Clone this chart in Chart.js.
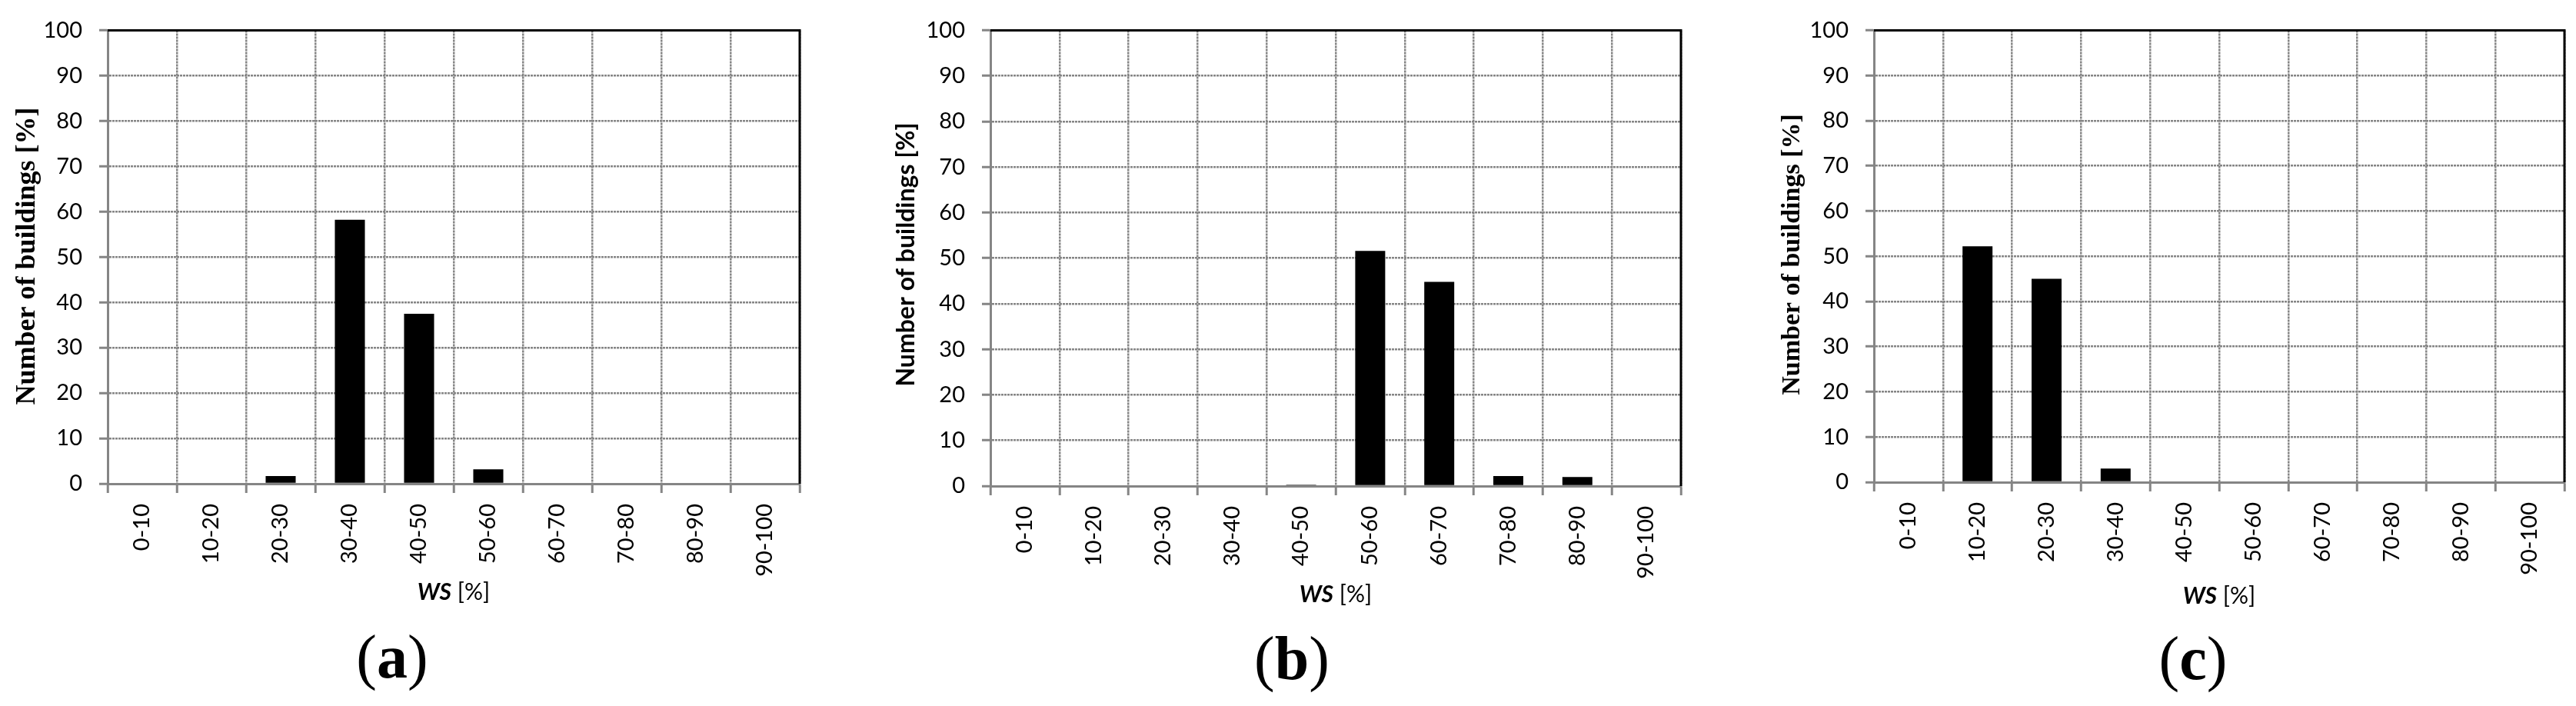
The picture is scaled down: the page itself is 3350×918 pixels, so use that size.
<!DOCTYPE html>
<html>
<head>
<meta charset="utf-8">
<script src="https://cdn.jsdelivr.net/npm/chart.js@4.4.0/dist/chart.umd.min.js"></script>
<style>
  html, body { margin: 0; padding: 0; background: #fff; }
  body { width: 3350px; height: 918px; position: relative; overflow: hidden; }
  .panel { position: absolute; top: 0; }
</style>
</head>
<body>
<canvas class="panel" id="chartA" width="1080" height="918" style="left:0px"></canvas>
<canvas class="panel" id="chartB" width="1110" height="918" style="left:1120px"></canvas>
<canvas class="panel" id="chartC" width="1090" height="918" style="left:2260px"></canvas>
<script>
// WS classes on the x axis
const wsClasses = ['0-10', '10-20', '20-30', '30-40', '40-50', '50-60', '60-70', '70-80', '80-90', '90-100'];
// y axis ticks
const yTicks = [0, 10, 20, 30, 40, 50, 60, 70, 80, 90, 100];
// share of buildings [%] in each WS class
const sharesA = [0, 0, 1.7, 58.2, 37.5, 3.2, 0, 0, 0, 0];
const sharesB = [0, 0, 0, 0, 0.3, 51.6, 44.8, 2.2, 2.0, 0];
const sharesC = [0, 52.2, 45.0, 3.0, 0, 0, 0, 0, 0, 0];

const yTitle = 'Number of buildings [%]';
const GRID = '#858585';

// panel geometry (page pixels)
const panels = [
  { id: 'chartA', data: sharesA, letter: 'a', left: 0, plotLeft: 140, plotRight: 1040, top: 31, bottom: 629,
    yFont: 'bold 36px "Liberation Serif"', yTitleX: 36, yTitleY: 333, xTitleY: 770, labelX: 510, labelY: 860 },
  { id: 'chartB', data: sharesB, letter: 'b', left: 1120, plotLeft: 1288, plotRight: 2186, top: 32, bottom: 632,
    yFont: 'bold 32px Lato', yTitleX: 1179, yTitleY: 331, xTitleY: 773, labelX: 1680, labelY: 862 },
  { id: 'chartC', data: sharesC, letter: 'c', left: 2260, plotLeft: 2437, plotRight: 3335, top: 30, bottom: 627,
    yFont: 'bold 34px "Liberation Serif"', yTitleX: 2331, yTitleY: 331, xTitleY: 775, labelX: 2852, labelY: 862 }
];

// titles, panel letter and the black top/right frame
const panelText = {
  id: 'panelText',
  afterDraw(chart, args, p) {
    const ctx = chart.ctx;
    const a = chart.chartArea;
    ctx.save();
    ctx.strokeStyle = '#000';
    ctx.lineWidth = 3;
    ctx.beginPath();
    ctx.moveTo(a.left, a.top);
    ctx.lineTo(a.right, a.top);
    ctx.lineTo(a.right, a.bottom);
    ctx.stroke();

    ctx.fillStyle = '#000';
    // y title
    ctx.save();
    ctx.translate(p.yTitleX - p.left, p.yTitleY);
    ctx.rotate(-Math.PI / 2);
    ctx.font = p.yFont;
    ctx.textAlign = 'center';
    ctx.textBaseline = 'middle';
    ctx.fillText(yTitle, 0, 0);
    ctx.restore();

    // x title: WS bold italic + [%]
    ctx.textBaseline = 'middle';
    ctx.textAlign = 'left';
    const f1 = 'italic bold 30px Lato', f2 = '30px Lato';
    ctx.font = f1; const w1 = ctx.measureText('WS').width;
    ctx.font = f2; const w2 = ctx.measureText(' [%]').width;
    let x = (a.left + a.right) / 2 - (w1 + w2) / 2;
    ctx.font = f1; ctx.fillText('WS', x, p.xTitleY);
    ctx.font = f2; ctx.fillText(' [%]', x + w1, p.xTitleY);

    // panel letter (a)
    const g1 = '80px "Liberation Serif"', g2 = 'bold 80px "Liberation Serif"';
    ctx.font = g1; const wp = ctx.measureText('(').width;
    ctx.font = g2; const wl = ctx.measureText(p.letter).width;
    x = p.labelX - p.left - (2 * wp + wl) / 2;
    ctx.font = g1; ctx.fillText('(', x, p.labelY);
    ctx.font = g2; ctx.fillText(p.letter, x + wp, p.labelY);
    ctx.font = g1; ctx.fillText(')', x + wp + wl, p.labelY);
    ctx.restore();
  }
};

function makeChart(p) {
  const canvas = document.getElementById(p.id);
  return new Chart(canvas, {
    type: 'bar',
    data: {
      labels: wsClasses,
      datasets: [{
        data: p.data,
        backgroundColor: '#000',
        borderWidth: 0,
        barPercentage: 0.434,
        categoryPercentage: 1
      }]
    },
    options: {
      responsive: false,
      animation: false,
      layout: { padding: { top: p.top, right: canvas.width - (p.plotRight - p.left), left: 0, bottom: 0 } },
      plugins: { legend: { display: false }, tooltip: { enabled: false }, panelText: p },
      scales: {
        x: {
          grid: { offset: true, color: GRID, lineWidth: 2.5, tickLength: 12, tickColor: GRID, tickWidth: 3 },
          border: { color: GRID, width: 3, dash: [3, 1] },
          ticks: { color: '#000', font: { family: 'Lato', size: 29 }, minRotation: 90, maxRotation: 90, padding: 14, autoSkip: false },
          afterFit: s => { s.height = 918 - p.bottom; }
        },
        y: {
          min: 0, max: 100,
          afterBuildTicks: s => { s.ticks = yTicks.map(v => ({ value: v })); },
          grid: { color: GRID, lineWidth: 2.5, tickLength: 11, tickColor: GRID, tickWidth: 3 },
          border: { color: GRID, width: 3, dash: [3, 1] },
          ticks: { color: '#000', font: { family: 'Lato', size: 29 }, padding: 22 },
          afterFit: s => { s.width = p.plotLeft - p.left; }
        }
      }
    },
    plugins: [panelText]
  });
}

document.fonts.load('29px Lato').then(() => document.fonts.load('bold 36px "Liberation Serif"'))
  .then(() => panels.forEach(makeChart));
</script>
</body>
</html>
